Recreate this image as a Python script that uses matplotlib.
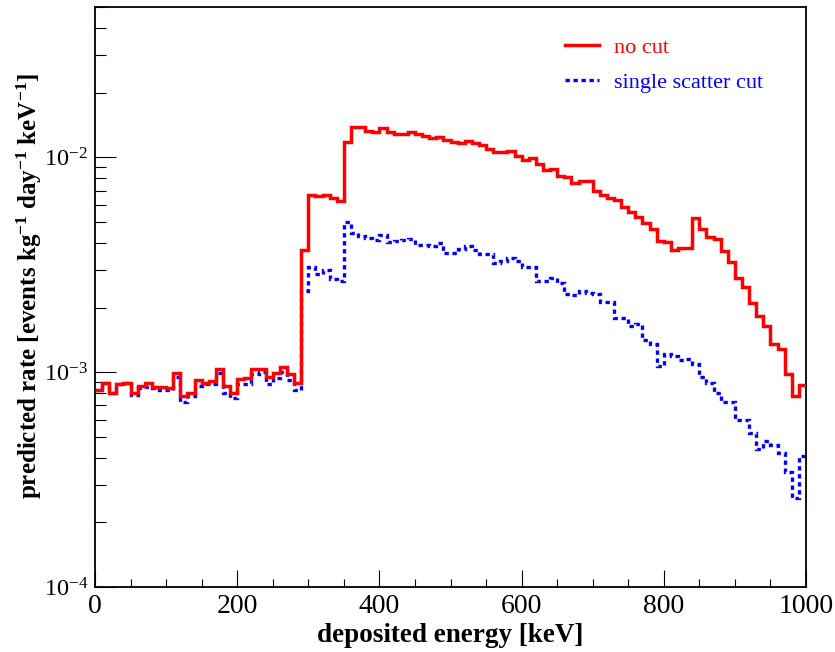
import numpy as np
import matplotlib
matplotlib.use("Agg")
import matplotlib.pyplot as plt
from matplotlib.ticker import MultipleLocator, LogLocator, NullFormatter

plt.rcParams['font.family'] = ['Liberation Serif', 'DejaVu Serif']
plt.rcParams['mathtext.fontset'] = 'custom'
plt.rcParams['mathtext.rm'] = 'Liberation Serif'
plt.rcParams['mathtext.bf'] = 'Liberation Serif:bold'
plt.rcParams['mathtext.it'] = 'Liberation Serif:italic'

# 10 keV bins from 0 to 1000 keV
bin_edges = np.arange(0, 1001, 10)

# predicted rate, no cut
rate_no_cut = [
    8.3e-4, 8.95e-4, 8.0e-4, 8.8e-4, 8.95e-4, 8.0e-4, 8.6e-4, 8.9e-4, 8.55e-4, 8.5e-4,
    8.4e-4, 9.9e-4, 7.75e-4, 8.0e-4, 9.2e-4, 8.9e-4, 9.1e-4, 1.035e-3, 8.65e-4, 8.0e-4,
    9.3e-4, 9.4e-4, 1.035e-3, 1.035e-3, 9.45e-4, 9.9e-4, 1.055e-3, 9.8e-4, 8.9e-4, 3.7e-3,
    6.7e-3, 6.6e-3, 6.7e-3, 6.45e-3, 6.3e-3, 1.185e-2, 1.39e-2, 1.39e-2, 1.33e-2, 1.31e-2,
    1.37e-2, 1.32e-2, 1.29e-2, 1.28e-2, 1.31e-2, 1.28e-2, 1.26e-2, 1.23e-2, 1.245e-2, 1.21e-2,
    1.185e-2, 1.165e-2, 1.19e-2, 1.165e-2, 1.14e-2, 1.10e-2, 1.065e-2, 1.065e-2, 1.07e-2, 1.02e-2,
    9.7e-3, 9.9e-3, 9.3e-3, 8.7e-3, 8.8e-3, 8.2e-3, 8.1e-3, 7.6e-3, 7.8e-3, 7.75e-3,
    6.95e-3, 6.65e-3, 6.45e-3, 6.35e-3, 5.85e-3, 5.55e-3, 5.3e-3, 4.95e-3, 4.65e-3, 4.1e-3,
    4.05e-3, 3.7e-3, 3.8e-3, 3.8e-3, 5.2e-3, 4.65e-3, 4.25e-3, 4.15e-3, 3.65e-3, 3.25e-3,
    2.75e-3, 2.5e-3, 2.1e-3, 1.82e-3, 1.65e-3, 1.36e-3, 1.28e-3, 9.8e-4, 7.75e-4, 8.7e-4,
]

# predicted rate, single scatter cut
rate_single = [
    8.3e-4, 8.95e-4, 8.0e-4, 8.8e-4, 8.9e-4, 7.8e-4, 8.4e-4, 8.5e-4, 8.4e-4, 8.3e-4,
    8.3e-4, 9.5e-4, 7.3e-4, 7.75e-4, 8.65e-4, 8.8e-4, 8.85e-4, 9.9e-4, 8.0e-4, 7.55e-4,
    8.85e-4, 8.8e-4, 9.85e-4, 1.0e-3, 8.85e-4, 9.4e-4, 1.0e-3, 9.15e-4, 8.3e-4, 2.4e-3,
    3.1e-3, 2.88e-3, 2.99e-3, 2.73e-3, 2.66e-3, 5.0e-3, 4.45e-3, 4.3e-3, 4.2e-3, 4.13e-3,
    4.35e-3, 4.06e-3, 4.08e-3, 4.13e-3, 4.17e-3, 3.92e-3, 3.9e-3, 3.85e-3, 3.98e-3, 3.58e-3,
    3.58e-3, 3.73e-3, 3.85e-3, 3.69e-3, 3.54e-3, 3.54e-3, 3.24e-3, 3.3e-3, 3.39e-3, 3.31e-3,
    3.1e-3, 3.1e-3, 2.66e-3, 2.66e-3, 2.76e-3, 2.6e-3, 2.31e-3, 2.29e-3, 2.38e-3, 2.33e-3,
    2.31e-3, 2.12e-3, 2.12e-3, 1.79e-3, 1.79e-3, 1.65e-3, 1.68e-3, 1.42e-3, 1.36e-3, 1.07e-3,
    1.21e-3, 1.19e-3, 1.14e-3, 1.15e-3, 1.09e-3, 9.55e-4, 8.95e-4, 8.0e-4, 7.3e-4, 7.25e-4,
    5.97e-4, 5.97e-4, 5.22e-4, 4.41e-4, 4.78e-4, 4.56e-4, 4.21e-4, 3.43e-4, 2.59e-4, 4.06e-4,
]

fig = plt.figure(figsize=(8.35, 6.52), dpi=100)
ax = fig.add_axes([0.1138, 0.0997, 0.8515, 0.8891])

ax.stairs(rate_single, bin_edges, baseline=None, color='#0000ff', lw=2.4,
          linestyle=(0, (1.3, 1.1)), label='single scatter cut', zorder=2)
ax.stairs(rate_no_cut, bin_edges, baseline=None, color='#ff0000', lw=2.5,
          label='no cut', zorder=3)

ax.set_xlim(0, 1000)
ax.set_yscale('log')
ax.set_ylim(1e-4, 0.05)

# ROOT-like ticks: inside, only left and bottom
ax.xaxis.set_major_locator(MultipleLocator(200))
ax.xaxis.set_minor_locator(MultipleLocator(50))
ax.yaxis.set_major_locator(LogLocator(base=10))
ax.yaxis.set_minor_locator(LogLocator(base=10, subs=np.arange(2, 10)))
ax.yaxis.set_minor_formatter(NullFormatter())
ax.tick_params(axis='x', which='major', direction='in', length=12, width=0.8,
               labelsize=20, pad=5)
ax.tick_params(axis='x', which='minor', direction='in', length=6, width=0.8)
ax.tick_params(axis='y', which='major', direction='in', length=15, width=0.8,
               labelsize=17.5, pad=5)
ax.tick_params(axis='y', which='minor', direction='in', length=7.7, width=0.8)
ax.tick_params(top=False, right=False, which='both')
for sp in ax.spines.values():
    sp.set_linewidth(1.3)

ax.set_xlabel('deposited energy [keV]', fontsize=19.5, fontweight='bold')
ax.set_ylabel(r'predicted rate [events kg$^{\mathbf{-1}}$ day$^{\mathbf{-1}}$ keV$^{\mathbf{-1}}$]',
              fontsize=18, fontweight='bold')
ax.xaxis.set_label_coords(0.5, -0.062)
ax.yaxis.set_label_coords(-0.072, 0.52)

h, l = ax.get_legend_handles_labels()
leg = ax.legend(h[::-1], l[::-1], loc='upper left', bbox_to_anchor=(0.655, 0.956),
                frameon=False, fontsize=16, handlelength=1.53, handletextpad=0.68,
                labelspacing=0.66, borderpad=0.2, borderaxespad=0)
for txt, line in zip(leg.get_texts(), leg.get_lines()):
    txt.set_color(line.get_color())

fig.savefig('out.png', dpi=100)
